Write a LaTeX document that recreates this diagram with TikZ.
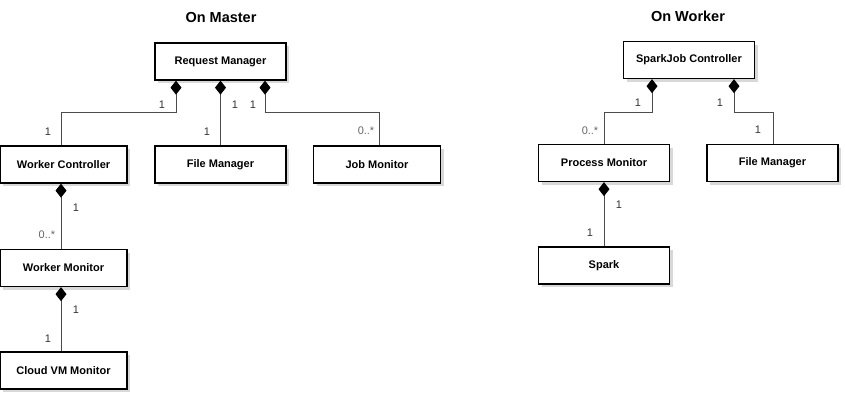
\documentclass[tikz,border=0pt]{standalone}
\usepackage{fontspec}
\setmainfont{Liberation Sans}
\usetikzlibrary{arrows.meta,shadows}
\begin{document}
\begin{tikzpicture}[x=1pt,y=-1pt,
  cls/.style={draw=black, line width=1.3pt, fill=white, minimum width=131pt, minimum height=37pt,
    inner sep=0pt, font=\bfseries\fontsize{11}{13}\selectfont,
    drop shadow={shadow xshift=3pt, shadow yshift=-3pt, fill=black!30, opacity=0.5}},
  comp/.style={draw=black!70, line width=0.9pt, {Diamond[length=14pt,width=11pt,fill=black,color=black]}-},
  mult/.style={font=\fontsize{11}{13}\selectfont, text=black!80, inner sep=0pt},
  many/.style={mult, text=black!60},
  ttl/.style={font=\bfseries\fontsize{14.5}{17}\selectfont}]
\useasboundingbox (0,0) rectangle (845,410);
% titles
\node[ttl] (tm) at (221,18) {On Master};
\node[ttl] (tw) at (688,16) {On Worker};
% master boxes
\node[cls] (rm) at (220.5,61.5) {Request Manager};
\node[cls, minimum width=127pt] (wc) at (63.5,164.5) {Worker Controller};
\node[cls] (fm) at (220.5,164.5) {File Manager};
\node[cls, minimum width=127pt] (jm) at (377,164.5) {Job Monitor};
\node[cls, minimum width=127pt] (wm) at (63.5,268) {Worker Monitor};
\node[cls, minimum width=127pt] (cv) at (63.5,370.5) {Cloud VM Monitor};
% worker boxes
\node[cls] (sj) at (689,60) {SparkJob Controller};
\node[cls] (pm) at (604,163) {Process Monitor};
\node[cls] (wf) at (772.5,163) {File Manager};
\node[cls] (sp) at (604,265.5) {Spark};
% master connectors
\draw[comp] ([xshift=-44.5pt]rm.south) -- ++(0,32) -| ([xshift=-2.5pt]wc.north);
\draw[comp] (rm.south) -- (fm.north);
\draw[comp] ([xshift=44.5pt]rm.south) -- ++(0,32) -| ([xshift=2pt]jm.north);
\draw[comp] ([xshift=-2.5pt]wc.south) -- ([xshift=-2.5pt]wm.north);
\draw[comp] ([xshift=-2.5pt]wm.south) -- ([xshift=-2.5pt]cv.north);
% worker connectors
\draw[comp] ([xshift=-37pt]sj.south) -- ++(0,33) -| (pm.north);
\draw[comp] ([xshift=45pt]sj.south) -- ++(0,33) -| ([xshift=1pt]wf.north);
\draw[comp] (pm.south) -- (sp.north);
% multiplicities master
\node[mult] (m1) at (162,105) {1};
\node[mult] (m2) at (48,132) {1};
\node[mult] (m3) at (235,105) {1};
\node[mult] (m4) at (207,132) {1};
\node[mult] (m5) at (253,105) {1};
\node[many] (m6) at (366,131) {0..*};
\node[mult] (m7) at (76,208) {1};
\node[many] (m8) at (47,235) {0..*};
\node[mult] (m9) at (76,310) {1};
\node[mult] (m10) at (48,339) {1};
% multiplicities worker
\node[mult] (w1) at (638,103) {1};
\node[many] (w2) at (590,131) {0..*};
\node[mult] (w3) at (720,103) {1};
\node[mult] (w4) at (758,130) {1};
\node[mult] (w5) at (619,205) {1};
\node[mult] (w6) at (590,233) {1};
\end{tikzpicture}
\end{document}
